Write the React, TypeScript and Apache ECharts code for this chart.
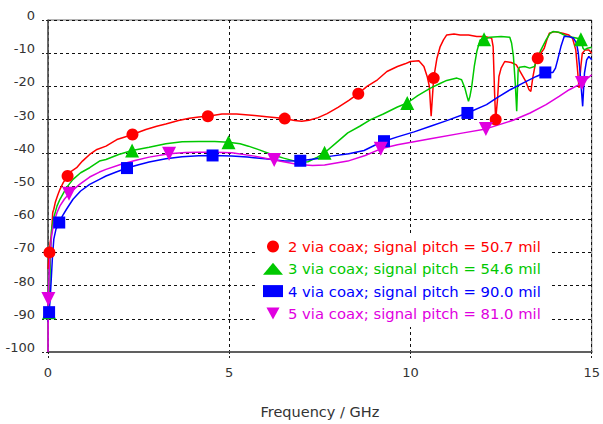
import React, { useEffect, useRef } from "react";
import * as echarts from "echarts";

// Insertion loss curves, [frequency GHz, dB]
const coax2Via: [number, number][] = [
  [0.0, -75], [0.03, -71], [0.06, -67], [0.09, -65], [0.11, -62], [0.13, -58], [0.16, -57],
  [0.2, -55], [0.26, -53], [0.33, -51], [0.42, -49], [0.54, -47], [0.65, -45.5], [0.79, -44.5],
  [0.95, -42.5], [1.15, -40.5], [1.35, -39], [1.6, -38], [1.9, -36], [2.1, -35.3], [2.33, -34.5],
  [2.7, -33], [3.0, -32], [3.25, -31.3], [3.6, -30.3], [3.9, -29.6], [4.16, -29.2], [4.41, -29],
  [4.8, -28.3], [5.2, -28.3], [5.7, -28.8], [6.1, -29.2], [6.53, -29.7], [6.8, -30.3], [7.0, -30.5],
  [7.2, -30.2], [7.45, -29.4], [7.7, -28.2], [8.0, -26.3], [8.3, -24.2], [8.56, -22.2], [8.8, -20],
  [9.09, -18], [9.35, -15.5], [9.64, -14], [9.85, -13.2], [10.0, -12.5], [10.23, -12.3],
  [10.37, -14], [10.46, -17], [10.52, -20], [10.57, -29], [10.6, -24], [10.64, -17.5],
  [10.73, -11.5], [10.82, -8], [10.91, -6], [11.0, -4.5], [11.2, -4.2], [11.37, -4.5], [11.6, -4.5],
  [11.83, -5], [12.05, -5], [12.24, -5.5], [12.28, -8], [12.32, -22], [12.35, -30], [12.4, -24],
  [12.44, -17], [12.5, -14.5], [12.6, -12.5], [12.78, -12.8], [12.92, -13.5], [13.05, -16],
  [13.18, -18.5], [13.27, -21], [13.32, -21.5], [13.38, -17], [13.45, -13], [13.51, -11.5],
  [13.6, -10], [13.69, -8.5], [13.76, -6], [13.83, -4], [13.97, -3.5], [14.2, -4], [14.37, -4.5],
  [14.47, -5.5], [14.56, -9], [14.6, -14], [14.65, -20.5], [14.7, -14], [14.74, -10], [14.82, -9],
  [14.92, -9], [15.0, -10],
];

const coax3Via: [number, number][] = [
  [0.0, -89], [0.03, -88], [0.05, -80], [0.07, -70], [0.1, -63], [0.16, -59.5], [0.25, -56],
  [0.33, -54], [0.51, -50.5], [0.69, -48], [0.9, -46], [1.15, -44.5], [1.42, -42.5], [1.6, -42],
  [1.95, -40.5], [2.32, -39.3], [2.79, -38.3], [3.25, -37.3], [3.7, -36.7], [4.16, -36.6],
  [4.6, -36.6], [4.98, -36.8], [5.3, -37.3], [5.53, -38], [5.85, -39.2], [6.17, -40.5],
  [6.5, -41.6], [6.81, -42.5], [7.0, -42.8], [7.17, -42.7], [7.4, -41.5], [7.63, -40],
  [7.95, -37], [8.27, -34], [8.6, -32], [8.9, -30], [9.25, -28.3], [9.64, -26.2], [9.91, -25],
  [10.2, -22.8], [10.55, -20.5], [10.8, -19.2], [11.0, -18.2], [11.28, -17.5], [11.41, -18],
  [11.5, -20.5], [11.56, -23], [11.6, -24.5], [11.64, -23], [11.69, -20], [11.76, -14],
  [11.83, -9.5], [11.92, -6], [12.03, -5.8], [12.19, -5.2], [12.5, -5], [12.74, -5.2],
  [12.79, -7], [12.84, -11], [12.89, -19], [12.93, -27.5], [12.97, -15], [13.01, -14.2],
  [13.15, -14], [13.29, -14.5], [13.42, -14], [13.5, -11.5], [13.6, -9], [13.74, -6],
  [13.85, -4], [13.93, -3.5], [14.1, -3.7], [14.2, -4.3], [14.33, -5], [14.47, -5.2],
  [14.6, -5.5], [14.7, -5.8], [14.76, -8.5], [14.8, -9], [14.88, -8.5], [15.0, -8.2],
];

const coax4Via: [number, number][] = [
  [0.0, -91], [0.03, -88], [0.06, -84], [0.09, -78], [0.12, -72], [0.16, -66], [0.22, -63],
  [0.31, -61], [0.4, -59], [0.51, -57], [0.69, -54], [0.9, -51.5], [1.15, -49.5], [1.42, -48],
  [1.6, -47], [1.9, -45.7], [2.18, -44.6], [2.5, -43.6], [2.79, -42.8], [3.25, -41.8],
  [3.7, -41.2], [4.16, -40.9], [4.54, -40.8], [5.07, -41], [5.5, -41.3], [5.99, -41.8],
  [6.53, -42.5], [6.96, -42.4], [7.4, -41.8], [7.81, -41], [8.3, -40.3], [8.72, -39.3],
  [9.0, -37.8], [9.27, -36.5], [9.64, -35.2], [10.1, -33.7], [10.55, -32], [11.0, -30.3],
  [11.57, -28], [12.1, -25.5], [12.37, -23.5], [12.75, -21], [13.1, -19], [13.47, -17],
  [13.72, -15.8], [13.93, -15.8], [14.0, -14.5], [14.06, -12], [14.15, -8], [14.24, -5],
  [14.38, -5], [14.5, -5.5], [14.58, -7], [14.63, -10], [14.68, -16], [14.75, -26], [14.8, -16],
  [14.86, -12], [14.92, -11], [15.0, -12],
];

const coax5Via: [number, number][] = [
  [0.0, -100], [0.005, -92], [0.01, -84], [0.03, -77], [0.06, -70], [0.1, -65], [0.16, -61],
  [0.25, -58], [0.33, -56], [0.45, -54], [0.58, -52.3], [0.87, -49.5], [1.15, -47.3],
  [1.42, -45.8], [1.6, -45], [2.0, -43.5], [2.4, -42.3], [2.79, -41.3], [3.34, -40.3],
  [3.8, -39.9], [4.16, -39.8], [4.6, -39.8], [5.07, -40], [5.7, -41], [6.24, -42.2],
  [6.9, -43.5], [7.3, -43.8], [7.63, -43.7], [8.27, -42.5], [8.75, -40.8], [9.18, -38.8],
  [9.64, -37.6], [10.55, -35.8], [11.46, -34], [12.08, -32.8], [12.83, -30.2], [13.3, -28],
  [13.74, -25.5], [14.1, -23], [14.38, -21], [14.73, -19], [15.0, -16.5],
];

// Marker positions along each curve
const marks2Via: [number, number][] = [
  [0.04, -70], [0.54, -47], [2.33, -34.5], [4.41, -29], [6.53, -29.7], [8.56, -22.2],
  [10.64, -17.5], [12.35, -30], [13.51, -11.5],
];
const marks3Via: [number, number][] = [
  [0.03, -88], [2.32, -39.3], [4.98, -36.8], [7.63, -40], [9.91, -25], [12.03, -5.8], [14.7, -5.8],
];
const marks4Via: [number, number][] = [
  [0.03, -88], [0.31, -61], [2.18, -44.6], [4.54, -40.8], [6.96, -42.4], [9.27, -36.5],
  [11.57, -28], [13.72, -15.8],
];
const marks5Via: [number, number][] = [
  [0.01, -84], [0.58, -52.3], [3.34, -40.3], [6.24, -42.2], [9.18, -38.8], [12.08, -32.8],
  [14.73, -19],
];

const seriesNames = [
  "2 via coax; signal pitch = 50.7 mil",
  "3 via coax; signal pitch = 54.6 mil",
  "4 via coax; signal pitch = 90.0 mil",
  "5 via coax; signal pitch = 81.0 mil",
];
const seriesColors = ["#ff0000", "#00c800", "#0000ff", "#e000e0"];
const curves = [coax2Via, coax3Via, coax4Via, coax5Via];
const markers = [marks2Via, marks3Via, marks4Via, marks5Via];

const FONT = "DejaVu Sans";
const downTriangle = "path://M0,0L12,0L6,11Z";
const legendIcons = ["circle", "triangle", "rect", downTriangle];
const scatterSymbols = ["circle", "triangle", "rect", "triangle"];
const scatterSizes = [12, 14, 12, 14];

export default function App() {
  const ref = useRef<HTMLDivElement>(null);

  useEffect(() => {
    if (!ref.current) return;
    const chart = echarts.init(ref.current, undefined, { renderer: "svg" });

    const lineSeries = curves.map((data, i) => ({
      name: seriesNames[i],
      type: "line",
      data,
      showSymbol: false,
      symbol: "none",
      lineStyle: { color: seriesColors[i], width: 1.5 },
      itemStyle: { color: seriesColors[i] },
      z: 2 + i * 0.1,
    }));

    const markerSeries = markers.map((data, i) => ({
      name: seriesNames[i],
      type: "scatter",
      data,
      symbol: scatterSymbols[i],
      symbolSize: scatterSizes[i],
      symbolRotate: i === 3 ? 180 : 0,
      itemStyle: { color: seriesColors[i], opacity: 1 },
      z: 4 + i * 0.1,
    }));

    chart.setOption({
      animation: false,
      backgroundColor: "#ffffff",
      textStyle: { fontFamily: FONT },
      grid: {
        left: 48,
        right: 7,
        top: 20,
        bottom: 71,
        show: true,
        borderColor: "#6a6a6a",
        borderWidth: 1,
        backgroundColor: "transparent",
      },
      legend: {
        orient: "vertical",
        left: 258,
        top: 234,
        padding: [5, 10, 6, 5],
        backgroundColor: "#ffffff",
        itemWidth: 20,
        itemHeight: 12,
        itemGap: 7.3,
        selectedMode: false,
        textStyle: { fontFamily: FONT, fontSize: 14.8, lineHeight: 14 },
        data: seriesNames.map((name, i) => ({
          name,
          icon: legendIcons[i],
          itemStyle: { color: seriesColors[i] },
          textStyle: { color: seriesColors[i] },
        })),
      },
      xAxis: {
        type: "value",
        min: 0,
        max: 15,
        interval: 5,
        name: "Frequency / GHz",
        nameLocation: "middle",
        nameGap: 52,
        nameTextStyle: { fontFamily: FONT, fontSize: 14.5, color: "#333" },
        axisLine: { show: true, onZero: false, lineStyle: { color: "#606060", width: 2 } },
        axisTick: { show: true, length: 7, lineStyle: { color: "#222", type: [2, 2] } },
        axisLabel: { fontFamily: FONT, fontSize: 13, color: "#333", margin: 14 },
        splitLine: { show: true, lineStyle: { color: "#111", type: [3, 3], width: 1 } },
      },
      yAxis: {
        type: "value",
        min: -100,
        max: 0,
        interval: 10,
        axisLine: { show: true, onZero: false, lineStyle: { color: "#555", width: 1.5 } },
        axisTick: { show: true, length: 7, lineStyle: { color: "#222", type: [2, 2] } },
        axisLabel: {
          fontFamily: FONT,
          fontSize: 13,
          color: "#333",
          margin: 13,
          verticalAlign: "bottom",
          lineHeight: 9,
        },
        splitLine: { show: true, lineStyle: { color: "#111", type: [3, 3], width: 1 } },
      },
      series: [...lineSeries, ...markerSeries],
    });

    return () => chart.dispose();
  }, []);

  return (
    <div
      ref={ref}
      style={{ position: "absolute", left: 0, top: 0, width: 603, height: 424 }}
    />
  );
}
